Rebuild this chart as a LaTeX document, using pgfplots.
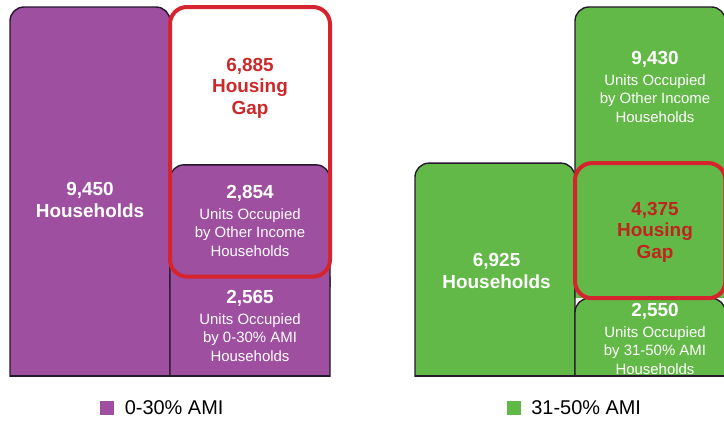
\documentclass[border=0pt]{standalone}
\usepackage{pgfplots}
\pgfplotsset{compat=1.18}
\usepackage{fontspec}
\setmainfont{Liberation Sans}
\definecolor{purp}{RGB}{158,79,160}
\definecolor{grn}{RGB}{99,185,71}
\definecolor{gapred}{RGB}{214,36,46}
\definecolor{gaptxt}{RGB}{204,40,42}
\definecolor{gaptxtB}{RGB}{192,36,30}
\definecolor{edge}{RGB}{38,24,44}
\pgfplotsset{
  panel/.style={scale only axis, axis lines=none, clip=true, ymin=0, xmin=-0.05, anchor=south west,
    legend style={draw=none, fill=none, inner sep=0pt, font=\fontsize{20}{22}\selectfont, anchor=center,
      /tikz/every odd column/.style={column sep=0bp}}},
  bar/.style={draw=edge, line width=1.4bp, rounded corners=14bp, mark=none, forget plot},
  gap/.style={draw=gapred, line width=4bp, rounded corners=17bp, mark=none, forget plot},
}
\tikzset{
  big/.style={font=\fontsize{19}{21.5}\selectfont\bfseries, align=center, text=white, inner sep=0pt},
  small/.style={font=\fontsize{15}{18.5}\selectfont, align=center, text=white, inner sep=0pt},
}
\newcommand{\num}[1]{{\fontsize{19}{20}\selectfont\bfseries #1}}
\begin{document}
\begin{tikzpicture}
\useasboundingbox (0,0) rectangle (724bp,421bp);
% ---------- 0-30% AMI ----------
\begin{axis}[panel, at={(2bp,44bp)}, width=336bp, height=373bp, xmax=2.05, ymax=9527,
  legend style={at={(0.479,-0.083)}}]
\addplot[bar, fill=purp] coordinates {(0,-3000) (0,9450) (1,9450) (1,-3000)};
\addplot[bar, fill=purp] coordinates {(1,2565) (1,-3000) (2,-3000) (2,2565)};
\addplot[bar, fill=purp] coordinates {(1,2300) (1,5419) (2,5419) (2,2300)};
\addplot[gap] coordinates {(1.5,2565) (1,2565) (1,9450) (2,9450) (2,2565) (1.5,2565)};
\addplot[edge, line width=3bp, mark=none, forget plot] coordinates {(0,0) (2,0)};
\addlegendimage{legend image code/.code={\fill[purp] (0bp,-6.5bp) rectangle (13bp,6.5bp);}}
\addlegendentry{\hspace{9bp}0-30\% AMI}
\node[big] at (axis cs:0.5,4521) {9,450\\Households};
\node[big, text=gaptxt] at (axis cs:1.5,7381) {6,885\\Housing\\Gap};
\node[small] at (axis cs:1.5,3984) {\num{2,854}\\[2bp]Units Occupied\\by Other Income\\Households};
\node[small] at (axis cs:1.5,1303) {\num{2,565}\\[2bp]Units Occupied\\by 0-30\% AMI\\Households};
\end{axis}
% ---------- 31-50% AMI ----------
\begin{axis}[panel, at={(407bp,44bp)}, width=317bp, height=373bp, xmax=1.93125, ymax=12077,
  legend style={at={(0.53,-0.083)}}]
\addplot[bar, fill=grn] coordinates {(0,-3000) (0,6925) (1,6925) (1,-3000)};
\addplot[bar, fill=grn] coordinates {(1,2550) (1,11980) (1.94,11980) (1.94,2550)};
\addplot[bar, fill=grn] coordinates {(1,-3000) (1,2550) (1.94,2550) (1.94,-3000)};
\addplot[gap] coordinates {(1.5,2550) (1,2550) (1,6925) (1.94,6925) (1.94,2550) (1.5,2550)};
\addplot[edge, line width=3bp, mark=none, forget plot] coordinates {(0,0) (1.94,0)};
\addlegendimage{legend image code/.code={\fill[grn] (0bp,-6.5bp) rectangle (13bp,6.5bp);}}
\addlegendentry{\hspace{9bp}31-50\% AMI}
\node[big] at (axis cs:0.51,3432) {6,925\\Households};
\node[big, text=gaptxtB] at (axis cs:1.5,4695) {4,375\\Housing\\Gap};
\node[small] at (axis cs:1.5,9390) {\num{9,430}\\[2bp]Units Occupied\\by Other Income\\Households};
\node[small] at (axis cs:1.5,1230) {\num{2,550}\\[2bp]Units Occupied\\by 31-50\% AMI\\Households};
\end{axis}
\end{tikzpicture}
\end{document}
